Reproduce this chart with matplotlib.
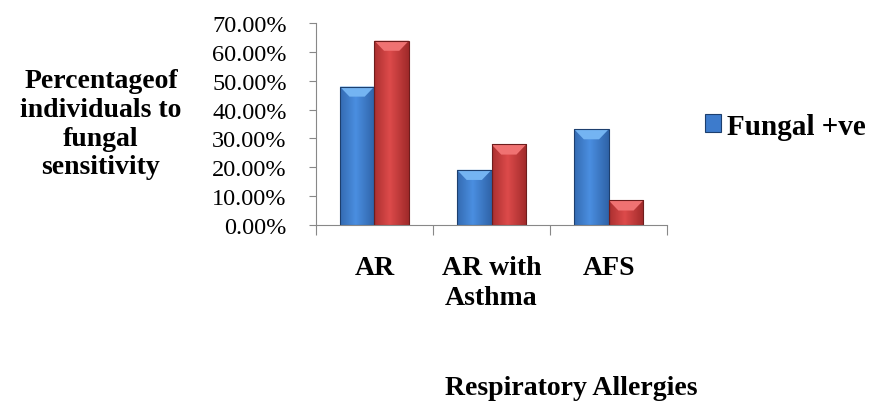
import numpy as np
import matplotlib.pyplot as plt
from matplotlib.ticker import FixedLocator, NullFormatter
from matplotlib.patches import Polygon
from matplotlib.colors import LinearSegmentedColormap

plt.rcParams['font.family'] = ['Liberation Serif', 'DejaVu Serif']

categories = ['AR', 'AR with\nAsthma', 'AFS']
fungal_pos = [48.0, 19.1, 33.2]
fungal_neg = [63.9, 27.9, 8.5]
y_ticks = [0, 10, 20, 30, 40, 50, 60, 70]

fig = plt.figure(figsize=(8.7, 4.02), dpi=100)
ax = fig.add_axes([0.363, 0.438, 0.404, 0.502])

x = np.arange(len(categories))
w = 0.295
blue = ax.bar(x - w / 2, fungal_pos, w, color='#3d7bcc', edgecolor='#1d3f6e', linewidth=0.8,
              label='Fungal +ve')
red = ax.bar(x + w / 2, fungal_neg, w, color='#cc3b3b', edgecolor='#6e1d1d', linewidth=0.8)

ax.set_xlim(-0.5, 2.5)
ax.set_ylim(0, 70)

# shading to mimic the bevelled bars
grad = np.linspace(0, 1, 64)
grad = np.abs(grad - 0.45)[None, :]
shades = {
    'blue': (LinearSegmentedColormap.from_list('b', ['#4a8ee0', '#2f63a8']), '#74b4f2'),
    'red': (LinearSegmentedColormap.from_list('r', ['#dc4a4a', '#a02a2a']), '#f07272'),
}
for bars, key in [(blue, 'blue'), (red, 'red')]:
    cmap, top_col = shades[key]
    for b in bars:
        x0, bw, h = b.get_x(), b.get_width(), b.get_height()
        im = ax.imshow(grad, cmap=cmap, extent=[x0, x0 + bw, 0, h], aspect='auto',
                       interpolation='bicubic', zorder=b.get_zorder())
        im.set_clip_path(b)
        inset = bw * 0.28
        dh = 3.5
        ax.add_patch(Polygon([[x0, h], [x0 + bw, h], [x0 + bw - inset, h - dh],
                              [x0 + inset, h - dh]], closed=True, facecolor=top_col,
                             edgecolor='none', zorder=b.get_zorder() + 0.1))
        b.set_facecolor('none')
        b.set_zorder(b.get_zorder() + 0.2)

ax.set_yticks(y_ticks)
ax.set_yticklabels([f'{v:.2f}%' for v in y_ticks], fontsize=17.5)
ax.xaxis.set_major_locator(FixedLocator([-0.5, 0.5, 1.5, 2.5]))
ax.xaxis.set_major_formatter(NullFormatter())
ax.tick_params(axis='x', length=7, color='#888888', direction='out')
ax.tick_params(axis='y', length=5, color='#888888', pad=16)
for s in ['top', 'right']:
    ax.spines[s].set_visible(False)
for s in ['left', 'bottom']:
    ax.spines[s].set_color('#888888')

for i, c in enumerate(categories):
    ax.annotate(c, xy=(x[i], 0), xycoords=('data', 'axes fraction'), xytext=(0, -21.5),
                textcoords='offset points', ha='center', va='top', fontsize=20,
                fontweight='bold', linespacing=1.3)

fig.text(0.116, 0.69, 'Percentageof\nindividuals to\nfungal\nsensitivity', ha='center',
         va='center', fontsize=20, fontweight='bold', linespacing=1.2)
fig.text(0.657, 0.0174, 'Respiratory Allergies', ha='center', va='baseline', fontsize=20,
         fontweight='bold')

leg = ax.legend(loc='center left', bbox_to_anchor=(0.794, 0.684), bbox_transform=fig.transFigure,
                frameon=False, prop={'weight': 'bold', 'size': 21}, handlelength=0.55,
                handleheight=0.55, handletextpad=0.2, borderpad=0)
for h in leg.legend_handles:
    h.set_facecolor('#3d7bcc')

fig.savefig('out.png', dpi=100)
